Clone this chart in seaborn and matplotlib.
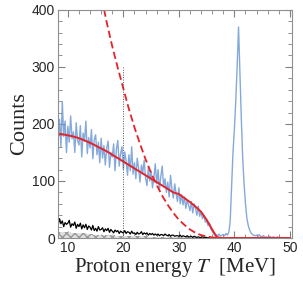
import numpy as np
import pandas as pd
import matplotlib
matplotlib.use("Agg")
import matplotlib.pyplot as plt
import seaborn as sns
from matplotlib.ticker import MultipleLocator

# measured spectrum, 0.25 MeV bins starting at 8 MeV
bin_start = 8.0
bin_width = 0.25
blue_counts = [
    195, 172, 208, 160, 239, 178, 205, 150, 196, 168, 214, 174,
    186, 150, 202, 171, 163, 197, 142, 184, 170, 205, 148, 176,
    158, 190, 139, 172, 181, 146, 168, 132, 175, 140, 162, 128,
    158, 170, 124, 150, 142, 165, 118, 156, 171, 126, 148, 160,
    120, 151, 135, 110, 146, 118, 160, 112, 132, 104, 140, 122,
    98, 128, 115, 136, 105, 92, 124, 100, 117, 88, 106, 130,
    95, 120, 84, 108, 126, 90, 104, 80, 98, 72, 110, 86,
    70, 95, 78, 64, 88, 60, 76, 58, 72, 52, 66, 58,
    48, 64, 44, 60, 52, 40, 56, 38, 46, 34, 40, 28,
    30, 22, 26, 16, 12, 8, 5, 6, 4, 7, 3, 5,
    6, 4, 8, 5, 10, 30, 90, 150, 190, 240, 300, 370,
    290, 210, 140, 95, 60, 35, 22, 14, 9, 6, 5, 4,
    5, 3, 6, 2, 3, 4, 1, 2, 1, 3, 2, 0,
    2, 1, 0, 2, 1, 0, 1, 0, 0, 1, 0, 0, 0,
]

# background (black) histogram, same bins, up to 37 MeV
black_counts = [
    28, 22, 34, 25, 30, 20, 27, 24, 26, 31, 19, 25,
    22, 28, 17, 24, 20, 26, 16, 23, 18, 24, 15, 21,
    19, 14, 22, 13, 17, 12, 20, 14, 15, 18, 11, 16,
    13, 17, 10, 15, 12, 9, 14, 11, 13, 8, 12, 10,
    9, 13, 8, 11, 10, 7, 12, 8, 9, 6, 10, 7,
    8, 11, 6, 9, 7, 9, 5, 8, 6, 8, 5, 7,
    5, 7, 4, 6, 6, 4, 7, 5, 4, 6, 3, 5,
    5, 3, 4, 4, 3, 5, 2, 4, 3, 2, 4, 2,
    2, 3, 1, 3, 2, 1, 2, 1, 1, 2, 1, 1,
    1, 0, 1, 0, 0, 1, 0, 0,
]

# shaded sub-component, 1 MeV bins
gray_energy = [8, 9, 10, 11, 12, 13, 14, 15, 16, 17, 18, 19, 20, 21, 22,
               23, 24, 25, 26, 27, 28, 29, 30, 31, 32, 33, 34, 35, 36]
gray_counts = [11, 10, 10, 9, 8, 8, 7, 6, 6, 5, 5, 4, 4, 4, 3,
               3, 3, 2, 2, 2, 2, 1, 1, 1, 1, 1, 0, 0, 0]

# small dark-blue component above the peak
dark_energy = [43.5, 44.0, 44.5, 45.0, 45.5, 46.0, 46.5, 47.0, 47.5, 48.0, 48.5]
dark_counts = [0, 1, 2, 1, 2, 1, 2, 1, 1, 0, 0]

# fit curves
fit_energy = [8, 9, 10, 11, 12, 13, 14, 15, 16, 17, 18, 19, 20, 21, 22, 23, 24,
              25, 26, 27, 28, 29, 30, 31, 32, 33, 34, 35, 36, 36.8, 37.5, 50]
fit_solid = [183, 182, 180, 178, 175, 171, 167, 162, 157, 152, 146, 140, 134,
             128, 122, 116, 110, 104, 98, 92, 86, 80, 77, 70, 63, 55, 46, 32,
             15, 2, 0, 0]
dash_energy = [16, 17, 18, 19, 20, 21, 22, 23, 24, 25, 26, 27, 28, 29, 30,
               31, 32, 33, 34, 35, 36, 37, 50]
fit_dashed = [425, 378, 336, 298, 262, 226, 194, 165, 138, 114, 93, 74, 58,
              44, 32, 23, 15, 9, 5, 3, 1, 0, 0]

cut_energy = 20
cut_height = 300

sns.set_style("ticks")
plt.rcParams["font.family"] = ["Liberation Sans", "DejaVu Sans"]
plt.rcParams["mathtext.fontset"] = "stix"

blue_df = pd.DataFrame({
    "T": bin_start + bin_width * np.arange(len(blue_counts)),
    "counts": blue_counts,
})
black_df = pd.DataFrame({
    "T": bin_start + bin_width * np.arange(len(black_counts)),
    "counts": black_counts,
})

fig = plt.figure(figsize=(3.03, 2.82), dpi=100)
ax = fig.add_axes([0.191, 0.156, 0.773, 0.809])

ax.fill_between(gray_energy, gray_counts, step="mid", facecolor="#e0e0e0",
                edgecolor="#9a9a9a", hatch="xxxx", linewidth=0)
sns.lineplot(data=blue_df, x="T", y="counts", ax=ax, color="#6f9ad4",
             linewidth=1.0, alpha=0.85)
sns.lineplot(data=black_df, x="T", y="counts", ax=ax, color="black",
             linewidth=0.9)
sns.lineplot(x=dark_energy, y=dark_counts, ax=ax, color="#2233cc",
             linewidth=0.8, drawstyle="steps-mid")
sns.lineplot(x=fit_energy, y=fit_solid, ax=ax, color="#e5222a", linewidth=1.4)
sns.lineplot(x=dash_energy, y=fit_dashed, ax=ax, color="#e5222a",
             linewidth=1.3, linestyle=(0, (4, 2)))
ax.plot([cut_energy, cut_energy], [0, cut_height], color="#555555",
        linewidth=0.7, linestyle=(0, (1, 1.5)))

ax.set_xlim(8.2, 50.4)
ax.set_ylim(0, 400)
ax.xaxis.set_major_locator(MultipleLocator(10))
ax.xaxis.set_minor_locator(MultipleLocator(2))
ax.yaxis.set_major_locator(MultipleLocator(100))
ax.yaxis.set_minor_locator(MultipleLocator(20))
ax.tick_params(which="both", direction="in", top=True, right=True,
               color="#808080", labelsize=10, pad=2)
ax.tick_params(which="major", length=5, width=0.8)
ax.tick_params(which="minor", length=3, width=0.6)
for s in ax.spines.values():
    s.set_color("#909090")
    s.set_linewidth(0.8)

ax.set_xlabel(r"Proton energy $T$  [MeV]", family="Liberation Serif",
              fontsize=15, labelpad=1)
ax.set_ylabel("Counts", family="Liberation Serif", fontsize=16, labelpad=2)

fig.savefig("out.png", dpi=100)
